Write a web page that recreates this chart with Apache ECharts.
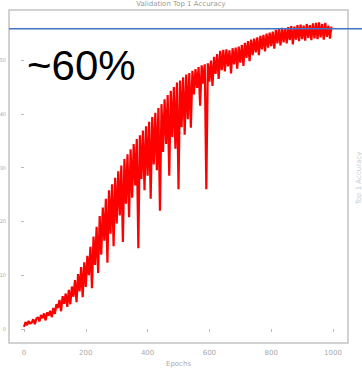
<!DOCTYPE html>
<html>
<head>
<meta charset="utf-8">
<script src="https://cdn.jsdelivr.net/npm/echarts@6/dist/echarts.min.js"></script>
<style>
  html, body { margin: 0; padding: 0; background: #fff; }
  #chart { width: 362px; height: 368px; }
</style>
</head>
<body>
<div id="chart"></div>
<script>
// tick labels
var xTicks = [0, 200, 400, 600, 800, 1000];
var yTicks = [0, 10, 20, 30, 40, 50];

// validation accuracy, one value every 5 epochs
var epochStep = 5;
var accuracy = [
  0.4, 1.3, 0.7, 1.5, 1.0, 1.2, 1.8, 0.9, 1.9, 2.2,
  1.4, 2.6, 2.0, 2.9, 1.6, 3.1, 2.5, 3.4, 2.2, 3.9,
  2.8, 4.6, 3.9, 5.4, 3.3, 6.1, 4.7, 6.6, 4.1, 7.3,
  4.6, 7.9, 6.0, 9.1, 5.0, 10.2, 7.0, 11.5, 5.9, 12.4,
  7.8, 13.6, 10.0, 15.3, 7.6, 17.2, 11.9, 19.0, 10.4, 21.0,
  13.8, 22.6, 16.4, 24.2, 12.3, 25.8, 17.7, 26.9, 15.4, 28.1,
  19.6, 29.3, 21.1, 30.4, 16.2, 31.6, 23.3, 32.5, 20.8, 33.4,
  24.4, 34.4, 26.7, 35.3, 15.0, 36.0, 27.9, 36.9, 25.8, 37.7,
  28.5, 38.5, 24.2, 39.4, 30.6, 40.2, 29.5, 41.1, 22.0, 41.8,
  32.9, 42.7, 34.4, 43.5, 28.5, 44.3, 35.7, 45.0, 33.5, 45.8,
  26.0, 46.2, 37.5, 46.8, 36.1, 47.3, 39.0, 47.6, 37.4, 48.0,
  43.6, 48.3, 44.8, 48.7, 41.5, 49.0, 45.6, 49.2, 26.0, 49.4,
  46.0, 49.9, 45.2, 50.6, 47.4, 51.1, 46.5, 51.7, 48.1, 51.9,
  47.9, 52.0, 48.8, 51.8, 47.5, 52.2, 49.2, 52.3, 48.4, 52.5,
  49.5, 52.8, 48.9, 53.2, 50.4, 53.5, 49.8, 53.8, 50.9, 54.0,
  51.4, 54.2, 50.9, 54.5, 52.0, 54.7, 51.6, 54.9, 52.3, 55.1,
  52.6, 55.3, 52.1, 55.6, 53.1, 55.8, 52.7, 56.0, 53.3, 55.9,
  53.1, 56.1, 53.7, 56.3, 52.9, 56.2, 53.8, 56.5, 53.5, 56.6,
  53.9, 56.4, 53.6, 56.7, 54.1, 56.5, 53.7, 56.8, 54.0, 56.9,
  53.9, 57.0, 54.2, 56.7, 53.8, 56.9, 54.3, 56.4, 54.0, 56.2
];

// annotation level (blue line) and its label
var refLevel = 55.8;
var refLabel = '~60%';

var points = accuracy.map(function (v, i) { return [i * epochStep, v]; });

var myChart = echarts.init(document.getElementById('chart'), null, { renderer: 'svg' });
var options = {
  animation: false,
  title: {
    text: 'Validation Top 1 Accuracy',
    left: 'center',
    top: 0,
    padding: 0,
    textStyle: { fontSize: 7, fontWeight: 'normal', color: '#999', fontFamily: 'DejaVu Sans' }
  },
  grid: {
    left: 9, right: 14, top: 10, bottom: 25,
    containLabel: false,
    outerBoundsMode: 'none',
    show: true, borderColor: '#c4c4c4', borderWidth: 1.5, backgroundColor: '#fff'
  },
  xAxis: {
    type: 'value',
    min: -48.5,
    max: 1048.5,
    axisLine: { show: false },
    splitLine: { show: false },
    axisTick: { show: true, length: 3, customValues: xTicks, lineStyle: { color: '#bbb' } },
    axisLabel: {
      customValues: xTicks, fontSize: 7, color: '#aaa', margin: 6, fontFamily: 'DejaVu Sans',
      formatter: function (v) { return String(v); }
    },
    name: 'Epochs',
    nameLocation: 'middle',
    nameGap: 17,
    nameTextStyle: { fontSize: 7, color: '#aaa', fontFamily: 'DejaVu Sans' }
  },
  yAxis: {
    type: 'value',
    min: -2.6,
    max: 59.3,
    axisLine: { show: false },
    splitLine: { show: false },
    axisTick: { show: true, length: 3, customValues: yTicks, lineStyle: { color: '#bbb' } },
    axisLabel: { customValues: yTicks, fontSize: 5, color: '#aaa', margin: 3, fontFamily: 'DejaVu Sans' }
  },
  series: [{
    type: 'line',
    data: points,
    showSymbol: false,
    lineStyle: { color: '#ff0000', width: 2.2 }
  }]
};
myChart.setOption(options);

// blue reference line runs from the left frame edge to the right edge of the picture
var lineY = myChart.convertToPixel({ yAxisIndex: 0 }, refLevel);
var frameLeft = myChart.convertToPixel({ xAxisIndex: 0 }, -48.5);
myChart.setOption({
  graphic: [
    {
      type: 'line',
      z: 90,
      shape: { x1: frameLeft, y1: lineY, x2: myChart.getWidth(), y2: lineY },
      style: { stroke: '#4472c4', lineWidth: 1.5 }
    },
    {
      type: 'text',
      left: 27,
      top: 44,
      z: 100,
      style: { text: refLabel, fontSize: 42, fill: '#000', fontFamily: 'Liberation Sans' }
    },
    {
      type: 'text',
      x: 359,
      y: 178,
      rotation: Math.PI / 2,
      style: { text: 'Top 1 Accuracy', fontSize: 7, fill: '#ccc', align: 'center', verticalAlign: 'middle', fontFamily: 'DejaVu Sans' }
    }
  ]
});
</script>
</body>
</html>
